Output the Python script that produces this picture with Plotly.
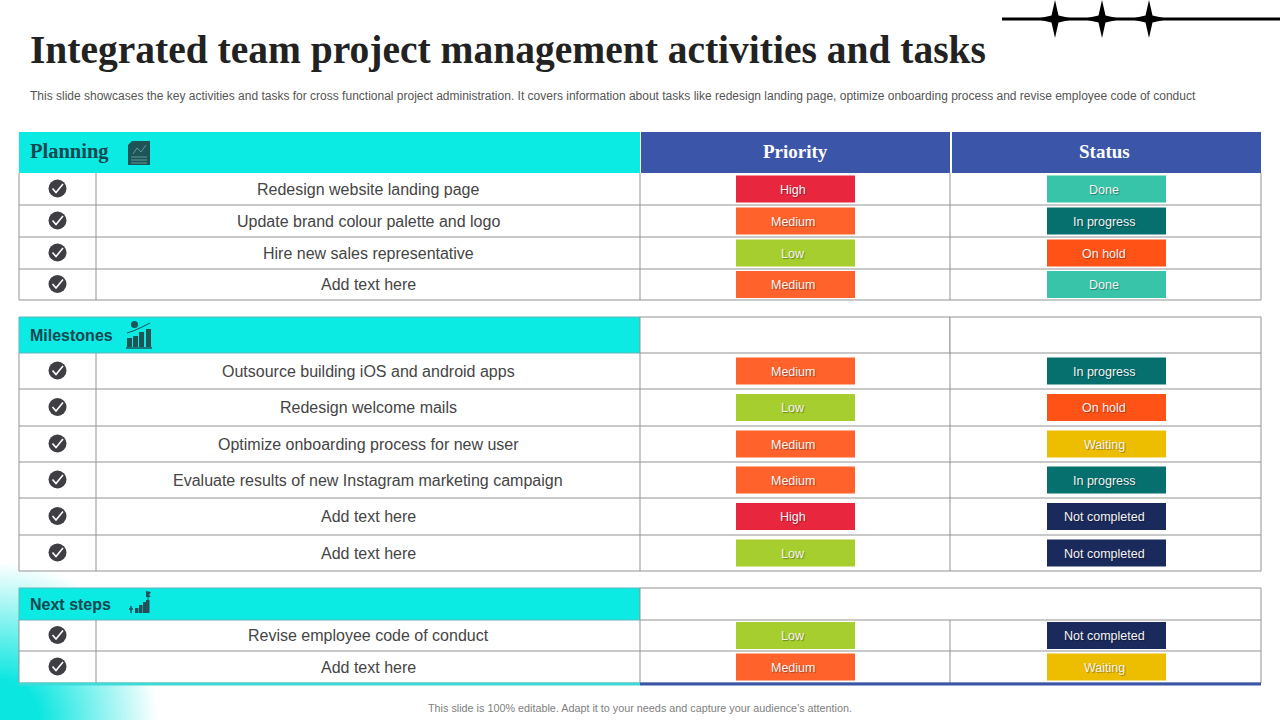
import base64
import plotly.graph_objects as go

title = "Integrated team project management activities and tasks"
subtitle = ("This slide showcases the key activities and tasks for cross functional project administration. "
            "It covers information about tasks like redesign landing page, optimize onboarding process and "
            "revise employee code of conduct")
footer = "This slide is 100% editable. Adapt it to your needs and capture your audience's attention."

section_names = ["Planning", "Milestones", "Next steps"]
column_names = ["Priority", "Status"]

planning_tasks = ["Redesign website landing page", "Update brand colour palette and logo",
                  "Hire new sales representative", "Add text here"]
planning_priority = ["High", "Medium", "Low", "Medium"]
planning_status = ["Done", "In progress", "On hold", "Done"]

milestone_tasks = ["Outsource building iOS and android apps", "Redesign welcome mails",
                   "Optimize onboarding process for new user",
                   "Evaluate results of new Instagram marketing campaign", "Add text here", "Add text here"]
milestone_priority = ["Medium", "Low", "Medium", "Medium", "High", "Low"]
milestone_status = ["In progress", "On hold", "Waiting", "In progress", "Not completed", "Not completed"]

next_tasks = ["Revise employee code of conduct", "Add text here"]
next_priority = ["Low", "Medium"]
next_status = ["Not completed", "Waiting"]

pill_colors = {"High": "#E8273F", "Medium": "#FF632B", "Low": "#A5CE2E", "Done": "#38C4A8",
               "In progress": "#06706E", "On hold": "#FF5216", "Waiting": "#EDBE00",
               "Not completed": "#1B2A5C"}

CYAN = "#0CEAE4"
BLUE = "#3B55A9"
GRID = "#939393"
DARK = "#3F3F43"
TEAL = "#14474F"

# column edges and row edges of the three blocks, in page pixels
X0, X1, X2, X3, X4 = 19, 96, 640, 950, 1261
PRIO_X = (736, 855)
STAT_X = (1047, 1166)
blocks = [
    (132, [173, 205, 237, 269, 300], planning_tasks, planning_priority, planning_status),
    (317, [353, 389, 426, 462, 498, 535, 571], milestone_tasks, milestone_priority, milestone_status),
    (588, [620, 651, 683], next_tasks, next_priority, next_status),
]

shapes = []
notes = []


def rect(x0, y0, x1, y1, fill="rgba(0,0,0,0)", line=None, width=1):
    shapes.append(dict(type="rect", xref="x", yref="y", x0=x0, y0=y0, x1=x1, y1=y1, layer="below",
                       fillcolor=fill, line=dict(color=line, width=width if line else 0)))


def hline(x0, x1, y, color=GRID, width=1):
    shapes.append(dict(type="line", xref="x", yref="y", x0=x0, x1=x1, y0=y, y1=y, layer="below",
                       line=dict(color=color, width=width)))


def vline(x, y0, y1, color=GRID, width=1):
    shapes.append(dict(type="line", xref="x", yref="y", x0=x, x1=x, y0=y0, y1=y1, layer="below",
                       line=dict(color=color, width=width)))


def path(d, fill=None, line=None, width=1):
    shapes.append(dict(type="path", xref="x", yref="y", path=d, layer="below",
                       fillcolor=fill or "rgba(0,0,0,0)", line=dict(color=line, width=width if line else 0)))


def text(x, y, s, size, color, family="Liberation Sans", anchor="center", bold=False, shadow=None):
    font = dict(size=size, color=color, family=family, weight="bold" if bold else "normal")
    if shadow:
        font["shadow"] = shadow
    notes.append(dict(x=x, y=y, xref="x", yref="y", text=s, showarrow=False, xanchor=anchor,
                      yanchor="middle", font=font, borderpad=0))


check_x, check_y = [], []
circle_x, circle_y = [], []

for top, edges, tasks, prio, stat in blocks:
    head = edges[0]
    bottom = edges[-1]
    rect(X0, edges[0], X4, bottom, fill="white")
    for y in edges[1:]:
        hline(X0, X4, y)
    vline(X0, head, bottom)
    vline(X1, head, bottom)
    vline(X2, head, bottom)
    vline(X3, head, bottom)
    vline(X4, head, bottom)
    for i, task in enumerate(tasks):
        mid = (edges[i] + edges[i + 1]) / 2
        circle_x.append(57.5)
        circle_y.append(mid - 0.5)
        check_x += [52.5, 56, 63, None]
        check_y += [mid - 0.5, mid + 3.5, mid - 5, None]
        text((X1 + X2) / 2, mid, task, 16, "#454545")
        for (a, b), label in ((PRIO_X, prio[i]), (STAT_X, stat[i])):
            rect(a, mid - 13.5, b, mid + 13.5, fill=pill_colors[label])
            text((a + b) / 2 - 2.5, mid + 0.5, label, 12.5, "#F4F4F4", shadow="1px 1px 1px rgba(0,0,0,0.35)")

# header rows
rect(X0, 132, X2, 173, fill=CYAN)
rect(X2 + 1, 132, X3, 173, fill=BLUE)
rect(X3 + 2, 132, X4, 173, fill=BLUE)
text(795, 151.5, column_names[0], 19, "white", "Liberation Serif", bold=True)
text(1104, 151.5, column_names[1], 19, "white", "Liberation Serif", bold=True)
text(29, 151.5, section_names[0], 20.5, TEAL, "Liberation Serif", "left", bold=True)

rect(X0, 317, X2, 353, fill=CYAN, line="#5FB8B8")
rect(X2, 317, X3, 353, fill="white", line=GRID)
rect(X3, 317, X4, 353, fill="white", line=GRID)
text(29, 335.5, section_names[1], 16, TEAL, anchor="left", bold=True)

rect(X0, 588, X2, 620, fill=CYAN, line="#5FB8B8")
rect(X2, 588, X4, 620, fill="white", line=GRID)
text(29, 604.5, section_names[2], 16, TEAL, anchor="left", bold=True)

hline(X0, X2, 684, color="#3FDAD8", width=3)
hline(X2, X4, 684, color=BLUE, width=3)

# planning icon
path("M 132 141 L 150 141 L 150 165 L 128 165 L 128 145 Z", fill="#1D5557")
for y in (157, 160, 163):
    hline(131, 147, y, color="#7FB5B5", width=0.7)
path("M 133 154 L 137 148 L 141 152 L 146 145", line="#7FB5B5", width=0.7)

# milestones icon
for x0, y0 in ((127, 338), (133, 336), (139, 332), (146, 329)):
    rect(x0, y0, x0 + 5, 347, fill="#1D5557")
hline(126, 152, 348, color="#1D5557", width=1.5)
path("M 127 333 L 133 331 L 140 328 L 150 323", line="#1D5557", width=1)
shapes.append(dict(type="circle", xref="x", yref="y", x0=131, x1=138, y0=321, y1=328, layer="below",
                   fillcolor="#1D5557", line=dict(width=0)))

# next steps icon
for x0, y0 in ((135, 608), (139, 605), (143, 602), (146, 600)):
    rect(x0, y0, x0 + 3.5, 613, fill="#24505A")
vline(148, 592, 602, color="#24505A", width=1)
path("M 146 591 L 151 592 L 149 595 L 151 597 L 146 597 Z", fill="#24505A")
path("M 131 606 L 131 613 M 129 609 L 133 609", line="#24505A", width=1.5)

# corner ornament
hline(1002, 1280, 19, color="black", width=3)
for cx in (1055, 1102, 1149):
    path(f"M {cx} 0 L {cx + 3.5} 15.5 L {cx + 19} 19 L {cx + 3.5} 22.5 L {cx} 38 "
         f"L {cx - 3.5} 22.5 L {cx - 19} 19 L {cx - 3.5} 15.5 Z", fill="black")

text(29, 50, title, 39.5, "#222222", "Liberation Serif", "left", bold=True)
text(29, 96, subtitle, 12, "#555555", anchor="left")
text(639.5, 708, footer, 10.8, "#808080")

glow = ('<svg xmlns="http://www.w3.org/2000/svg" width="160" height="160"><defs>'
        '<radialGradient id="g" cx="0" cy="160" r="158" gradientUnits="userSpaceOnUse">'
        '<stop offset="0.25" stop-color="#0CE6E0"/><stop offset="1" stop-color="#FFFFFF"/>'
        '</radialGradient></defs><rect width="160" height="160" fill="url(#g)"/></svg>')
glow_src = "data:image/svg+xml;base64," + base64.b64encode(glow.encode()).decode()

fig = go.Figure()
fig.add_trace(go.Scatter(x=circle_x, y=circle_y, mode="markers", hoverinfo="skip",
                         marker=dict(size=18, color=DARK, line=dict(width=0))))
fig.add_trace(go.Scatter(x=check_x, y=check_y, mode="lines", hoverinfo="skip",
                         line=dict(color="white", width=1.6)))
fig.update_layout(
    width=1280, height=720, autosize=False, showlegend=False,
    margin=dict(l=0, r=0, t=0, b=0), paper_bgcolor="white", plot_bgcolor="rgba(0,0,0,0)",
    xaxis=dict(range=[0, 1280], visible=False, fixedrange=True),
    yaxis=dict(range=[720, 0], visible=False, fixedrange=True),
    shapes=shapes, annotations=notes,
    # paper-referenced so it sits underneath the table shapes
    images=[dict(source=glow_src, xref="paper", yref="paper", x=0, y=160 / 720, sizex=160 / 1280, sizey=160 / 720,
                 xanchor="left", yanchor="top", sizing="stretch", layer="below")],
)
fig.write_html("out.html", config={"displayModeBar": False},
               post_script="document.body.style.margin='0';")
